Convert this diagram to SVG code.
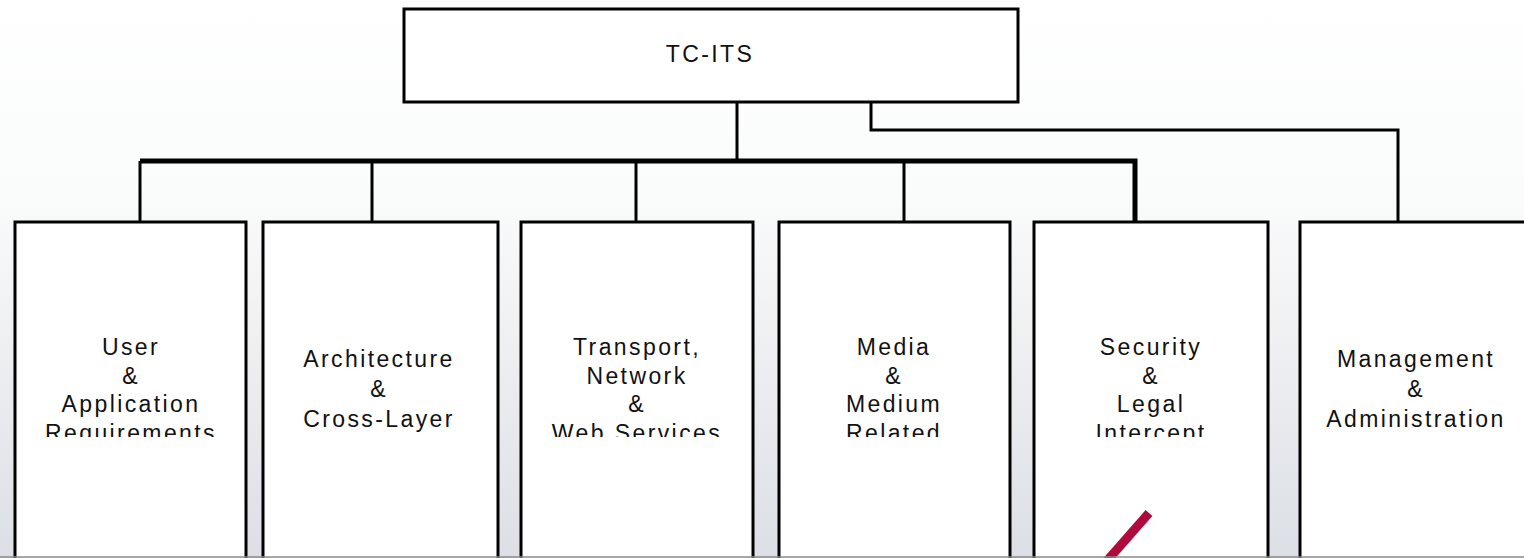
<svg xmlns="http://www.w3.org/2000/svg" width="1524" height="558" viewBox="0 0 1524 558">
<defs>
<linearGradient id="bg" x1="0" y1="0" x2="0" y2="1">
<stop offset="0" stop-color="#ffffff"/>
<stop offset="0.35" stop-color="#fafbfb"/>
<stop offset="1" stop-color="#dcdfe5"/>
</linearGradient>
<clipPath id="txtclip"><rect x="0" y="0" width="1524" height="437"/></clipPath>
<style>
.box{fill:#ffffff;stroke:#000000;stroke-width:3}
.lbl{font-family:"Liberation Sans",Arial,sans-serif;font-size:23px;letter-spacing:2.4px;fill:#111111;text-anchor:middle}
.conn{fill:none;stroke:#000000;stroke-width:3;stroke-linejoin:miter}
.bus{fill:none;stroke:#000000;stroke-width:5;stroke-linejoin:miter}
</style>
</defs>
<rect x="0" y="0" width="1524" height="558" fill="url(#bg)"/>

<g id="connectors">
<line class="conn" x1="737" y1="102" x2="737" y2="161"/>
<polyline class="bus" points="140,161 1135,161 1135,222"/>
<line class="conn" x1="140" y1="161" x2="140" y2="222"/>
<line class="conn" x1="372" y1="161" x2="372" y2="222"/>
<line class="conn" x1="636" y1="161" x2="636" y2="222"/>
<line class="conn" x1="904" y1="161" x2="904" y2="222"/>
<polyline class="conn" points="871,102 871,130 1398,130 1398,222"/>
</g>

<g id="tc-its">
<rect class="box" x="404" y="9" width="614" height="93"/>
<text class="lbl" x="710" y="62">TC-ITS</text>
</g>

<g id="user-app" clip-path="none">
<rect class="box" x="15" y="222" width="231" height="340"/>
<g clip-path="url(#txtclip)">
<text class="lbl" x="131" y="355">User</text>
<text class="lbl" x="131" y="383.5">&amp;</text>
<text class="lbl" x="131" y="412">Application</text>
<text class="lbl" x="131" y="440.5">Requirements</text>
</g>
</g>

<g id="architecture">
<rect class="box" x="263" y="222" width="235" height="340"/>
<text class="lbl" x="379" y="367">Architecture</text>
<text class="lbl" x="379" y="397">&amp;</text>
<text class="lbl" x="379" y="427">Cross-Layer</text>
</g>

<g id="transport">
<rect class="box" x="521" y="222" width="232" height="340"/>
<g clip-path="url(#txtclip)">
<text class="lbl" x="637" y="355">Transport,</text>
<text class="lbl" x="637" y="383.5">Network</text>
<text class="lbl" x="637" y="412">&amp;</text>
<text class="lbl" x="637" y="440.5">Web Services</text>
</g>
</g>

<g id="media">
<rect class="box" x="779" y="222" width="231" height="340"/>
<g clip-path="url(#txtclip)">
<text class="lbl" x="894" y="355">Media</text>
<text class="lbl" x="894" y="383.5">&amp;</text>
<text class="lbl" x="894" y="412">Medium</text>
<text class="lbl" x="894" y="440.5">Related</text>
</g>
</g>

<g id="security">
<rect class="box" x="1034" y="222" width="234" height="340"/>
<g clip-path="url(#txtclip)">
<text class="lbl" x="1151" y="355">Security</text>
<text class="lbl" x="1151" y="383.5">&amp;</text>
<text class="lbl" x="1151" y="412">Legal</text>
<text class="lbl" x="1151" y="440.5">Intercept</text>
</g>
</g>

<g id="management">
<rect class="box" x="1300" y="222" width="240" height="340"/>
<text class="lbl" x="1416" y="367">Management</text>
<text class="lbl" x="1416" y="397">&amp;</text>
<text class="lbl" x="1416" y="427">Administration</text>
</g>

<line x1="1149" y1="513" x2="1106" y2="562" stroke="#b00a3c" stroke-width="9"/>
<line x1="0" y1="557" x2="1524" y2="557" stroke="#8a8a8a" stroke-width="1.5"/>
</svg>
